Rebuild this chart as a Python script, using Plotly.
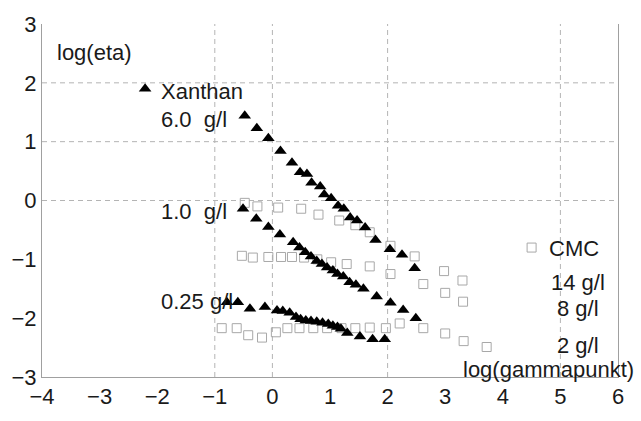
import plotly.graph_objects as go

# Xanthan series (black triangles)
xan6_x = [-0.48, -0.27, -0.07, 0.14, 0.34, 0.48, 0.60, 0.68, 0.83, 0.90, 1.02, 1.14, 1.24, 1.35, 1.47, 1.61, 1.79, 2.04, 2.25, 2.47]
xan6_y = [1.44, 1.23, 1.06, 0.84, 0.64, 0.48, 0.45, 0.30, 0.24, 0.10, 0.04, -0.09, -0.14, -0.29, -0.34, -0.46, -0.67, -0.83, -0.92, -1.15]

xan1_x = [-0.51, -0.28, -0.07, 0.13, 0.36, 0.47, 0.57, 0.67, 0.77, 0.86, 0.95, 1.05, 1.13, 1.23, 1.34, 1.45, 1.58, 1.81, 2.05, 2.27, 2.49]
xan1_y = [-0.14, -0.31, -0.45, -0.58, -0.71, -0.80, -0.88, -0.95, -1.03, -1.08, -1.14, -1.19, -1.25, -1.29, -1.39, -1.43, -1.50, -1.63, -1.74, -1.86, -2.00]

xan025_x = [-0.79, -0.60, -0.39, -0.13, 0.08, 0.18, 0.30, 0.41, 0.49, 0.58, 0.67, 0.77, 0.87, 0.97, 1.05, 1.13, 1.19, 1.30, 1.52, 1.74, 1.95]
xan025_y = [-1.73, -1.73, -1.84, -1.81, -1.87, -1.88, -1.91, -1.98, -2.02, -2.04, -2.05, -2.06, -2.08, -2.10, -2.13, -2.15, -2.18, -2.25, -2.31, -2.36, -2.36]

# CMC series (grey open squares)
cmc14_x = [-0.48, -0.26, 0.10, 0.50, 0.80, 1.16, 1.44, 1.69, 2.05, 2.47, 2.98, 3.30]
cmc14_y = [-0.04, -0.10, -0.12, -0.14, -0.24, -0.34, -0.42, -0.54, -0.77, -0.95, -1.20, -1.36]

cmc8_x = [-0.53, -0.34, -0.07, 0.15, 0.34, 0.55, 0.78, 1.02, 1.29, 1.69, 2.05, 2.62, 3.00, 3.31]
cmc8_y = [-0.94, -0.97, -0.96, -0.96, -0.96, -0.97, -1.00, -1.05, -1.08, -1.12, -1.25, -1.42, -1.57, -1.72]

cmc2_x = [-0.88, -0.62, -0.42, -0.18, 0.06, 0.26, 0.47, 0.71, 0.95, 1.20, 1.44, 1.69, 1.97, 2.21, 2.62, 3.00, 3.32, 3.72]
cmc2_y = [-2.17, -2.17, -2.29, -2.33, -2.24, -2.17, -2.17, -2.17, -2.17, -2.17, -2.17, -2.16, -2.17, -2.09, -2.17, -2.26, -2.39, -2.49]

# legend key markers
key_xan_x, key_xan_y = [-2.21], [1.90]
key_cmc_x, key_cmc_y = [4.50], [-0.80]

x_ticks = [-4, -3, -2, -1, 0, 1, 2, 3, 4, 5, 6]
y_ticks = [-3, -2, -1, 0, 1, 2, 3]
grid_x = [-1, 0, 2, 5]
grid_y = [0, 1, 2]
x_min, x_max = -4, 6
y_min, y_max = -3, 3

# text labels: (text, x, y, anchor)
labels = [
    ("log(eta)", -3.76, 2.51, "left"),
    ("Xanthan", -1.95, 1.86, "left"),
    ("6.0\u00a0 g/l", -1.95, 1.38, "left"),
    ("1.0\u00a0 g/l", -1.95, -0.19, "left"),
    ("0.25 g/l", -1.95, -1.72, "left"),
    ("CMC", 4.79, -0.82, "left"),
    ("14 g/l", 4.82, -1.39, "left"),
    ("8 g/l", 4.93, -1.84, "left"),
    ("2 g/l", 4.93, -2.46, "left"),
    ("log(gammapunkt)", 6.29, -2.88, "right"),
]

FONT = "Liberation Sans, Arial, sans-serif"
TXT = "#1a1a1a"
GRID = dict(color="#b4b4b4", width=1, dash="5px,4px")
tri = dict(symbol="triangle-up", size=11, color="black")
sq = dict(symbol="square-open", size=9, color="#a8a8a8", line=dict(width=1, color="#a8a8a8"))

fig = go.Figure()
for xs, ys in [(cmc14_x, cmc14_y), (cmc8_x, cmc8_y), (cmc2_x, cmc2_y), (key_cmc_x, key_cmc_y)]:
    fig.add_trace(go.Scatter(x=xs, y=ys, mode="markers", marker=sq, showlegend=False))
for xs, ys in [(xan6_x, xan6_y), (xan1_x, xan1_y), (xan025_x, xan025_y), (key_xan_x, key_xan_y)]:
    fig.add_trace(go.Scatter(x=xs, y=ys, mode="markers", marker=tri, showlegend=False))

for gx in grid_x:
    fig.add_shape(type="line", xref="x", yref="y", x0=gx, x1=gx, y0=y_min, y1=y_max,
                  line=GRID, layer="below")
for gy in grid_y:
    fig.add_shape(type="line", xref="x", yref="y", x0=x_min, x1=x_max, y0=gy, y1=gy,
                  line=GRID, layer="below")

for t, x, y, anc in labels:
    # paper-relative x so labels beyond the axis range are still drawn
    px = (x - x_min) / (x_max - x_min)
    fig.add_annotation(x=px, y=y, xref="paper", yref="y", text=t, showarrow=False,
                       xanchor=anc, yanchor="middle", borderpad=0,
                       font=dict(family=FONT, size=22, color=TXT))

fig.update_layout(
    width=641, height=421,
    margin=dict(l=42, r=23, t=21, b=37),
    paper_bgcolor="white", plot_bgcolor="white",
    font=dict(family=FONT, size=22, color=TXT),
    showlegend=False,
)
fig.update_xaxes(range=[x_min, x_max], tickvals=x_ticks, showgrid=False, zeroline=False,
                 showline=True, linecolor="#a0a0a0", linewidth=1, ticks="",
                 tickfont=dict(family=FONT, size=22, color=TXT))
fig.update_yaxes(range=[y_min, y_max], tickvals=y_ticks, showgrid=False, zeroline=False,
                 showline=True, mirror=True, linecolor="#a0a0a0", linewidth=1, ticks="",
                 tickfont=dict(family=FONT, size=22, color=TXT))

fig.write_html("out.html")
